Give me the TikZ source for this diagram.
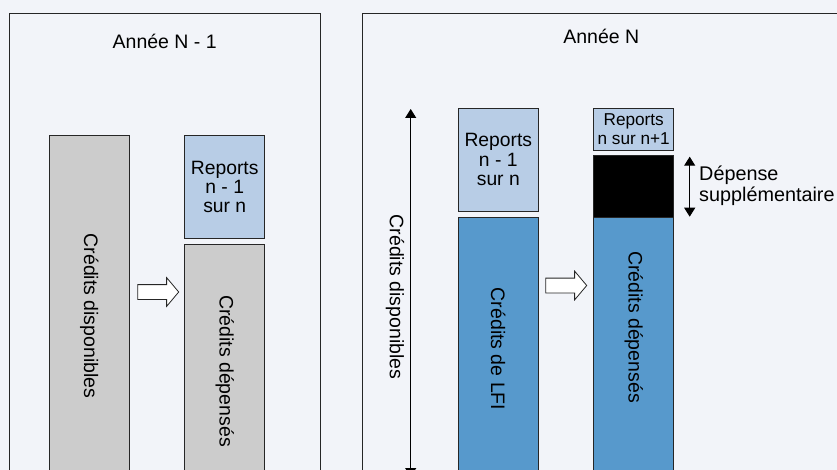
\documentclass[tikz,border=0pt]{standalone}
\usepackage{fontspec}
\setmainfont{Liberation Sans}
\usetikzlibrary{positioning,arrows.meta,shapes.arrows}
\definecolor{pagebg}{HTML}{F2F4F9}
\definecolor{bargray}{HTML}{CCCCCC}
\definecolor{reportblue}{HTML}{B8CDE6}
\definecolor{lfiblue}{HTML}{5799CC}
\tikzset{
  yearframe/.style={draw=black!85, line width=1pt, inner sep=0pt, outer sep=0pt},
  barbox/.style={draw=black!85, line width=0.9pt, inner sep=0pt, outer sep=0pt,
    minimum width=80pt, anchor=north west},
  reportbox/.style={barbox, fill=reportblue, align=center, inner sep=1pt,
    font=\fontsize{19.3}{19.3}\selectfont},
  vlabel/.style={rotate=-90, font=\fontsize{19.5}{19.5}\selectfont},
  hollowarr/.style={single arrow, draw=black!85, fill=white, line width=0.8pt,
    inner xsep=0pt, inner ysep=7pt, minimum height=41pt,
    single arrow head extend=7pt, single arrow head indent=0pt,
    single arrow tip angle=100, anchor=tail},
  dimarr/.style={{Triangle[length=9pt,width=11pt]}-{Triangle[length=9pt,width=11pt]},
    line width=1pt},
}

\begin{document}
\begin{tikzpicture}[x=1pt, y=-1pt, font=\fontsize{19.5}{20}\selectfont]
  \useasboundingbox (0,0) rectangle (837,470);
  \clip (0,0) rectangle (837,470);
  \fill[pagebg] (0,0) rectangle (837,470);

  % ---- year frames ----
  \node[yearframe, minimum width=311pt, minimum height=480pt, anchor=north west]
    at (9.5,13.3) (yearprev) {};
  \node[yearframe, minimum width=500pt, minimum height=480pt, anchor=north west]
    at (362.3,13.3) (yearcur) {};
  \node[anchor=base] at (164.7,48.3) (titleprev) {Année N - 1};
  \node[anchor=base] at (601.3,43.3) (titlecur)  {Année N};

  % ---- Year N-1 ----
  \node[barbox, fill=bargray, minimum height=360pt] at (49.3,135.7) (dispoprev) {};
  \node[reportbox, minimum height=102.6pt] at (184.7,135.7) (reportsprev)
    {Reports\\n - 1\\sur n};
  \node[barbox, fill=bargray, minimum height=250pt] at (184.7,244.3) (depprev) {};
  \node[vlabel] at (89.3,316) (dispoprevtxt) {Crédits disponibles};
  \node[vlabel] at (224.7,371) (depprevtxt)  {Crédits dépensés};
  \node[hollowarr] at (137.3,292) (arrprev) {};

  % ---- Year N ----
  \node[reportbox, minimum height=102.7pt] at (458.3,108.3) (reportscur)
    {Reports\\n - 1\\sur n};
  \node[barbox, fill=lfiblue, minimum height=280pt] at (458.3,217.3) (lficur) {};
  \node[vlabel] at (498.3,349) (lficurtxt) {Crédits de LFI};
  \node[hollowarr] at (545.3,285.5) (arrcur) {};

  \node[reportbox, minimum height=41.7pt, font=\fontsize{17.2}{19}\selectfont]
    at (593.7,108.3) (reportsnext) {Reports\\n sur n+1};
  \node[barbox, fill=black, minimum height=61.6pt] at (593.7,155.7) (extra) {};
  \node[barbox, fill=lfiblue, minimum height=280pt] at (593.7,217.3) (depcur) {};
  \node[vlabel] at (633.7,327) (depcurtxt) {Crédits dépensés};

  % available credits
  \coordinate (dispotop) at (410.7,109);
  \coordinate (dispobot) at (410.7,477);
  \draw[dimarr] (dispotop) -- (dispobot);
  \node[vlabel] at (395,297) (dispocurtxt) {Crédits disponibles};

  % extra spending
  \coordinate (extratop) at (689.7,156.7);
  \coordinate (extrabot) at (689.7,216.7);
  \draw[dimarr] (extratop) -- (extrabot);
  \node[anchor=west, align=left, inner sep=2pt, font=\fontsize{19.8}{21}\selectfont]
    at (697,186) (extratxt) {Dépense\\supplémentaire};
\end{tikzpicture}
\end{document}
